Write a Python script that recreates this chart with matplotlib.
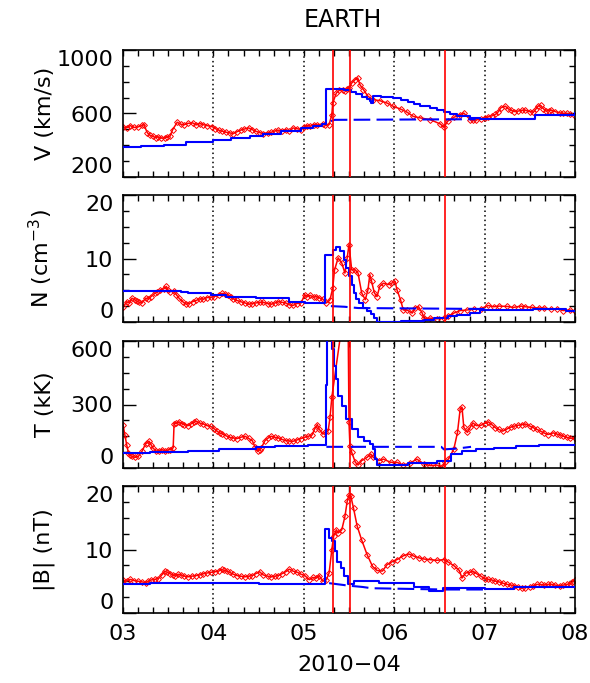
import numpy as np
import matplotlib
matplotlib.use("Agg")
import matplotlib.pyplot as plt
from matplotlib.ticker import MultipleLocator

# ---- data (time in days of 2010-04) ----
v_obs_t = [3.00, 3.04, 3.08, 3.12, 3.17, 3.21, 3.23, 3.27, 3.30, 3.33, 3.36, 3.39, 3.42, 3.46, 3.49, 3.52,
           3.55, 3.60, 3.64, 3.68, 3.72, 3.77, 3.81, 3.85, 3.89, 3.93, 3.99, 4.02, 4.06, 4.10, 4.14, 4.18,
           4.22, 4.26, 4.30, 4.34, 4.39, 4.43, 4.47, 4.51, 4.55, 4.60, 4.64, 4.68, 4.72, 4.76, 4.80, 4.84,
           4.88, 4.92, 4.97, 5.00, 5.03, 5.07, 5.11, 5.15, 5.21, 5.24, 5.28, 5.31, 5.32, 5.36, 5.39, 5.43,
           5.46, 5.48, 5.50, 5.53, 5.567, 5.597, 5.62, 5.66, 5.71, 5.77, 5.84, 5.92, 5.99, 6.07, 6.14, 6.21,
           6.29, 6.40, 6.51, 6.55, 6.59, 6.66, 6.73, 6.77, 6.84, 6.87, 6.91, 6.96, 7.00, 7.04, 7.08, 7.12,
           7.15, 7.18, 7.23, 7.26, 7.29, 7.33, 7.37, 7.41, 7.45, 7.50, 7.54, 7.57, 7.59, 7.62, 7.65, 7.68,
           7.71, 7.74, 7.78, 7.83, 7.87, 7.91, 7.95, 8.00]
v_obs = [516, 510, 524, 512, 516, 525, 530, 478, 462, 457, 448, 453, 445, 446, 452, 457,
         499, 545, 532, 530, 538, 541, 528, 537, 530, 524, 516, 505, 495, 488, 482, 478,
         474, 485, 495, 502, 509, 498, 488, 480, 474, 478, 482, 490, 495, 492, 499, 488,
         509, 505, 499, 512, 524, 520, 530, 528, 534, 525, 530, 593, 666, 729, 745, 750,
         742, 755, 761, 792, 813, 824, 782, 750, 708, 687, 681, 666, 645, 628, 609, 582,
         572, 561, 534, 513, 551, 576, 593, 603, 561, 556, 560, 566, 572, 579, 585, 594,
         610, 636, 646, 630, 621, 612, 615, 620, 621, 612, 608, 630, 646, 651, 630, 615,
         618, 621, 612, 604, 600, 600, 595, 587]
v_mod_t = [3.00, 3.20, 3.45, 3.70, 4.00, 4.20, 4.40, 4.55, 4.75, 4.97, 5.10, 5.20, 5.245, 5.45, 5.52,
           5.58, 5.64, 5.70, 5.73, 5.745, 5.77, 5.85, 5.99, 6.07, 6.15, 6.22, 6.29, 6.40, 6.47, 6.55,
           6.62, 6.70, 6.84, 6.95, 7.56, 8.00]
v_mod = [392, 396, 404, 418, 436, 448, 460, 474, 490, 509, 522, 534, 757, 750, 735,
         720, 705, 690, 680, 666, 708, 705, 698, 685, 670, 658, 645, 635, 620, 609,
         595, 582, 572, 568, 592, 600]
v_bg_t = [5.30, 5.34, 6.90]
v_bg = [552, 560, 564]

n_obs_t = [3.00, 3.04, 3.07, 3.10, 3.13, 3.15, 3.18, 3.21, 3.25, 3.28, 3.31, 3.35, 3.38, 3.41, 3.45, 3.48,
           3.50, 3.52, 3.56, 3.59, 3.62, 3.66, 3.70, 3.73, 3.77, 3.81, 3.85, 3.89, 3.93, 3.97, 4.01, 4.06,
           4.10, 4.13, 4.16, 4.19, 4.22, 4.26, 4.30, 4.35, 4.39, 4.43, 4.47, 4.51, 4.55, 4.60, 4.64, 4.68,
           4.72, 4.76, 4.80, 4.84, 4.88, 4.92, 4.97, 5.01, 5.04, 5.07, 5.11, 5.14, 5.17, 5.21, 5.25, 5.29,
           5.32, 5.34, 5.38, 5.42, 5.455, 5.48, 5.50, 5.53, 5.57, 5.60, 5.64, 5.68, 5.71, 5.73, 5.75, 5.78,
           5.81, 5.84, 5.88, 5.94, 5.97, 6.01, 6.03, 6.07, 6.10, 6.14, 6.20, 6.23, 6.27, 6.31, 6.33, 6.40,
           6.47, 6.55, 6.59, 6.66, 6.73, 6.81, 6.88, 6.96, 7.04, 7.10, 7.16, 7.25, 7.32, 7.40, 7.45, 7.52,
           7.60, 7.66, 7.74, 7.80, 7.87, 7.94, 8.00]
n_obs = [2.3, 3.2, 3.0, 3.75, 3.5, 3.3, 3.1, 3.0, 3.75, 3.6, 4.0, 4.5, 4.7, 5.05, 5.2, 5.6,
         5.0, 4.8, 4.9, 4.3, 3.75, 3.2, 2.8, 2.9, 3.2, 3.4, 3.65, 3.6, 3.85, 3.9, 4.0, 4.3,
         4.5, 4.4, 4.3, 4.0, 3.65, 3.4, 3.2, 3.0, 2.8, 2.9, 3.0, 3.1, 3.1, 2.9, 2.8, 3.0,
         3.2, 3.1, 3.0, 2.7, 2.6, 2.9, 3.0, 4.3, 4.0, 4.2, 3.9, 4.0, 3.8, 3.6, 3.0, 3.5,
         5.35, 8.2, 10.1, 9.3, 7.7, 10.1, 12.2, 8.2, 8.2, 7.7, 4.6, 3.5, 5.1, 7.45, 6.4, 4.6,
         4.0, 5.6, 6.1, 5.9, 6.1, 6.4, 5.1, 3.5, 1.9, 1.9, 1.4, 2.2, 2.4, 1.4, 0.6, 0.6,
         0.5, 0.6, 0.9, 1.4, 1.8, 1.9, 2.0, 2.1, 2.6, 2.4, 2.5, 2.45, 2.3, 2.5, 2.4, 2.3,
         2.2, 2.2, 2.0, 2.1, 1.8, 1.9, 1.7]
n_mod_t = [3.00, 3.64, 3.72, 3.97, 4.14, 4.47, 4.84, 5.01, 5.23, 5.32, 5.36, 5.40, 5.44, 5.47, 5.50,
           5.53, 5.55, 5.58, 5.61, 5.66, 5.70, 5.74, 5.78, 5.81, 6.08, 6.33, 6.44, 6.59, 6.70, 6.84,
           6.95, 7.54, 7.90, 8.00]
n_mod = [4.9, 4.8, 4.5, 4.3, 4.0, 3.75, 3.2, 3.0, 10.5, 11.4, 11.8, 11.2, 9.8, 8.5, 7.2,
         5.8, 4.6, 3.7, 3.0, 2.2, 1.7, 1.2, 0.6, 0.0, 0.2, 0.35, 0.6, 0.9, 1.15, 1.4,
         1.9, 2.1, 1.8, 1.8]
n_bg_t = [5.30, 5.45, 5.60, 7.00]
n_bg = [2.5, 2.4, 2.2, 2.05]

t_obs_t = [3.00, 3.02, 3.04, 3.06, 3.08, 3.10, 3.13, 3.17, 3.21, 3.25, 3.27, 3.29, 3.31, 3.33, 3.37, 3.40,
           3.43, 3.47, 3.50, 3.52, 3.555, 3.565, 3.59, 3.62, 3.65, 3.68, 3.72, 3.75, 3.78, 3.81, 3.85, 3.89,
           3.93, 3.97, 4.01, 4.04, 4.07, 4.10, 4.14, 4.18, 4.22, 4.26, 4.30, 4.35, 4.39, 4.43, 4.46, 4.49,
           4.51, 4.53, 4.57, 4.60, 4.64, 4.68, 4.72, 4.76, 4.80, 4.84, 4.88, 4.92, 4.97, 5.01, 5.05, 5.09,
           5.12, 5.15, 5.17, 5.21, 5.24, 5.27, 5.29, 5.31, 5.43, 5.49, 5.50, 5.51, 5.53, 5.57, 5.60, 5.64,
           5.70, 5.74, 5.77, 5.83, 5.88, 5.96, 6.03, 6.10, 6.18, 6.25, 6.33, 6.40, 6.47, 6.53, 6.56, 6.60,
           6.66, 6.70, 6.73, 6.75, 6.77, 6.81, 6.84, 6.87, 6.91, 6.96, 7.00, 7.04, 7.08, 7.12, 7.16, 7.20,
           7.25, 7.29, 7.33, 7.37, 7.41, 7.45, 7.50, 7.54, 7.58, 7.62, 7.66, 7.70, 7.76, 7.80, 7.83, 7.87,
           7.91, 7.95, 8.00]
t_obs = [205, 158, 111, 71, 60, 55, 50, 55, 79, 114, 120, 126, 110, 95, 79, 82,
         87, 80, 85, 87, 95, 208, 212, 218, 210, 205, 200, 208, 215, 221, 212, 208,
         200, 197, 185, 174, 165, 161, 152, 145, 142, 139, 145, 150, 140, 129, 100, 79,
         85, 95, 129, 140, 150, 145, 142, 135, 129, 128, 126, 132, 139, 145, 150, 155,
         184, 205, 184, 160, 170, 176, 240, 334, 700, 700, 216, 105, 74, 27, 14, 35,
         50, 66, 50, 35, 42, 27, 27, 14, 24, 42, 19, 11, 14, 3, 27, 42,
         90, 168, 279, 287, 192, 168, 192, 213, 200, 202, 210, 218, 205, 190, 182, 174,
         185, 193, 198, 202, 205, 208, 198, 190, 182, 174, 165, 158, 166, 160, 158, 150,
         145, 140, 142]
t_mod_t = [3.00, 3.30, 3.72, 4.06, 4.47, 4.68, 5.05, 5.245, 5.255, 5.315, 5.335, 5.355, 5.38, 5.42,
           5.47, 5.53, 5.60, 5.67, 5.73, 5.765, 5.79, 5.81, 6.15, 6.47, 6.63, 6.75, 6.90, 7.10, 7.35,
           7.60, 8.00]
t_mod = [70, 76, 82, 90, 98, 103, 107, 390, 700, 560, 483, 420, 342, 294,
         231, 184, 145, 129, 113, 90, 42, 14, 24, 35, 66, 78, 88, 95, 102,
         108, 110]
t_bg_t = [5.25, 6.52, 6.55, 6.70, 6.85]
t_bg = [100, 100, 88, 92, 100]

b_obs_t = [3.00, 3.04, 3.08, 3.12, 3.17, 3.21, 3.25, 3.28, 3.31, 3.35, 3.39, 3.43, 3.46, 3.49, 3.52, 3.55,
           3.58, 3.61, 3.64, 3.68, 3.72, 3.76, 3.81, 3.85, 3.89, 3.93, 3.97, 4.02, 4.06, 4.09, 4.12, 4.15,
           4.18, 4.22, 4.26, 4.30, 4.35, 4.39, 4.43, 4.47, 4.51, 4.55, 4.60, 4.64, 4.68, 4.72, 4.76, 4.80,
           4.84, 4.88, 4.93, 4.97, 5.01, 5.06, 5.10, 5.14, 5.17, 5.21, 5.25, 5.28, 5.31, 5.33, 5.36, 5.38,
           5.42, 5.455, 5.48, 5.50, 5.52, 5.55, 5.59, 5.64, 5.70, 5.76, 5.81, 5.87, 5.92, 5.98, 6.03, 6.10,
           6.16, 6.21, 6.27, 6.33, 6.40, 6.47, 6.55, 6.60, 6.66, 6.72, 6.75, 6.79, 6.84, 6.87, 6.91, 6.96,
           7.00, 7.04, 7.08, 7.12, 7.16, 7.20, 7.25, 7.29, 7.33, 7.37, 7.41, 7.45, 7.50, 7.54, 7.58, 7.62,
           7.66, 7.70, 7.74, 7.78, 7.83, 7.87, 7.91, 7.95, 7.97, 8.00]
b_obs = [5.2, 5.0, 5.3, 5.1, 5.0, 4.9, 4.8, 5.0, 5.2, 5.3, 5.4, 6.0, 6.6, 6.4, 6.2, 6.0,
         5.8, 6.1, 6.0, 5.8, 5.7, 5.8, 5.9, 6.0, 6.2, 6.3, 6.4, 6.5, 6.6, 6.9, 6.7, 6.6,
         6.4, 6.1, 5.9, 5.8, 5.7, 5.8, 5.9, 6.2, 6.5, 6.0, 5.8, 5.7, 5.8, 5.9, 6.2, 6.5,
         6.9, 6.6, 6.4, 6.1, 5.9, 5.25, 5.6, 5.5, 5.9, 5.0, 5.25, 6.3, 10.0, 12.1, 13.1, 12.6,
         13.1, 15.2, 17.6, 18.6, 18.4, 16.5, 13.7, 11.5, 9.2, 7.35, 6.7, 6.6, 7.6, 8.1, 8.4, 9.0,
         9.3, 9.0, 8.7, 8.5, 8.4, 8.3, 8.4, 8.0, 7.45, 6.7, 5.5, 6.3, 6.4, 6.6, 6.2, 5.8,
         5.4, 5.3, 5.2, 5.0, 4.9, 4.7, 4.5, 4.4, 4.3, 4.1, 3.9, 4.0, 4.1, 4.3, 4.5, 4.5,
         4.4, 4.5, 4.5, 4.4, 4.3, 4.4, 4.5, 4.6, 4.9, 5.2]
b_mod_t = [3.00, 3.30, 4.50, 5.23, 5.28, 5.31, 5.34, 5.37, 5.41, 5.45, 5.49, 5.55, 5.59, 5.83, 6.22,
           6.38, 6.54, 7.00, 7.33, 8.00]
b_mod = [4.6, 4.8, 4.6, 13.2, 11.8, 11.3, 9.7, 8.1, 7.1, 5.8, 4.5, 5.0, 5.1, 4.7, 4.1,
         3.4, 3.9, 3.8, 4.1, 4.1]
b_bg_t = [5.28, 5.50, 5.65, 5.75, 6.15, 6.55, 7.00]
b_bg = [4.7, 4.3, 4.1, 3.9, 3.8, 3.7, 3.7]

shock_lines = [5.32, 5.51, 6.56]
day_ticks = [3, 4, 5, 6, 7, 8]
day_labels = ["03", "04", "05", "06", "07", "08"]

panels = [
    ("V (km/s)", v_obs_t, v_obs, v_mod_t, v_mod, v_bg_t, v_bg, (200, 1000), [200, 600, 1000], 100),
    ("N (cm$^{-3}$)", n_obs_t, n_obs, n_mod_t, n_mod, n_bg_t, n_bg, (0, 20), [0, 10, 20], 2.5),
    ("T (kK)", t_obs_t, t_obs, t_mod_t, t_mod, t_bg_t, t_bg, (0, 600), [0, 300, 600], 75),
    ("|B| (nT)", b_obs_t, b_obs, b_mod_t, b_mod, b_bg_t, b_bg, (0, 20), [0, 10, 20], 2.5),
]

plt.rcParams["font.family"] = "DejaVu Sans"
plt.rcParams["font.size"] = 15

W, H = 590, 683
fig = plt.figure(figsize=(W / 100, H / 100), dpi=100)

tops = [50, 195, 341, 486]
ph = 127
left, right = 123, 575

for i, (ylab, ot, ov, mt, mv, bt, bv, ylim, yt, ymin) in enumerate(panels):
    ax = fig.add_axes([left / W, 1 - (tops[i] + ph) / H, (right - left) / W, ph / H])
    for d in [4, 5, 6, 7]:
        ax.axvline(d, color="k", ls=(0, (1, 2)), lw=1.1, zorder=1)
    ax.plot(ot, ov, color="red", lw=1.1, marker="D", ms=3.0, mfc="none", mew=0.7, zorder=2)
    ax.plot(mt, mv, color="blue", lw=1.5, drawstyle="steps-post", zorder=3)
    ax.plot(bt, bv, color="blue", lw=1.5, ls=(0, (8, 3)), zorder=3)
    for s in shock_lines:
        ax.axvline(s, color="red", lw=1.2, zorder=4)

    ax.set_xlim(3, 8)
    ax.set_ylim(*ylim)
    ax.set_yticks(yt)
    ax.yaxis.set_minor_locator(MultipleLocator(ymin))
    ax.set_xticks(day_ticks)
    ax.xaxis.set_minor_locator(MultipleLocator(1 / 6))
    ax.tick_params(which="both", direction="in", top=True, right=True, width=1.0)
    ax.tick_params(axis="y", which="major", length=9, pad=7, labelsize=16)
    ax.tick_params(axis="y", which="minor", length=4.5)
    ax.tick_params(axis="x", which="both", length=4)
    ax.tick_params(axis="x", which="major", pad=8, labelsize=16)
    for sp in ax.spines.values():
        sp.set_linewidth(1.2)
    labs = ax.get_yticklabels()
    labs[0].set_va("bottom")
    labs[-1].set_va("top")

    ax.set_ylabel(ylab, fontsize=16)
    ax.yaxis.set_label_coords(-0.15, 0.5)
    if i < 3:
        ax.set_xticklabels([])
    else:
        ax.set_xticklabels(day_labels)
        ax.set_xlabel("2010\u221204", fontsize=16)
        ax.xaxis.set_label_coords(0.5, -0.33)

fig.text(343 / W, 1 - 20 / H, "EARTH", ha="center", va="center", fontsize=17)

fig.savefig("out.png", dpi=100)
